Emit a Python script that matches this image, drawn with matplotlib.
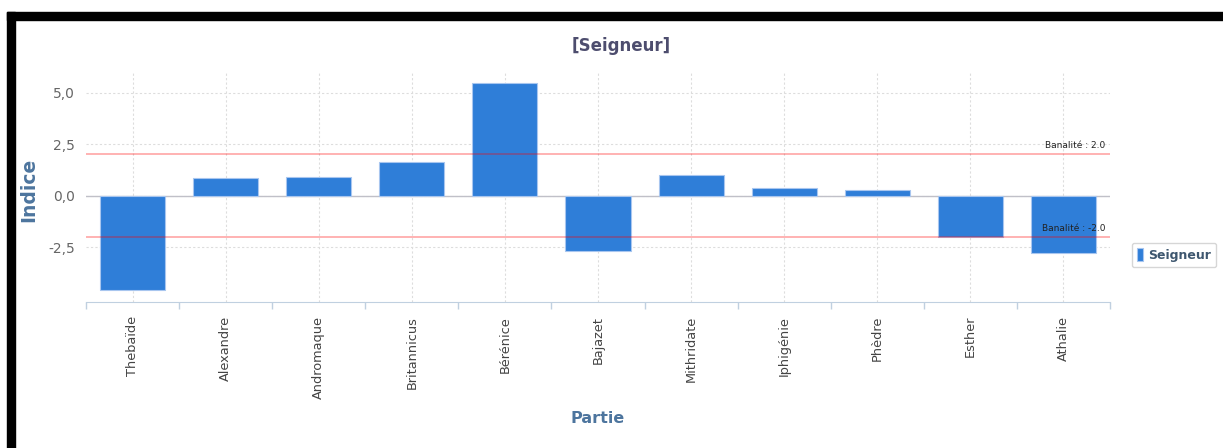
import matplotlib.pyplot as plt
from matplotlib.patches import Rectangle
from matplotlib.ticker import FuncFormatter

# data
pieces = ['Thebaïde', 'Alexandre', 'Andromaque', 'Britannicus', 'Bérénice', 'Bajazet',
          'Mithridate', 'Iphigénie', 'Phèdre', 'Esther', 'Athalie']
seigneur = [-4.6, 0.86, 0.92, 1.64, 5.48, -2.68, 1.02, 0.39, 0.29, -2.02, -2.78]
seuils = [2.0, -2.0]
yticks = [-2.5, 0.0, 2.5, 5.0]

W, H = 1223, 448
fig = plt.figure(figsize=(W / 100, H / 100), dpi=100)
ax = fig.add_axes([86 / W, 1 - 302 / H, (1110 - 86) / W, (302 - 72) / H])

x = list(range(len(pieces)))
ax.bar(x, seigneur, width=0.7, color='#2f7ed8', edgecolor='#a8c6ef', linewidth=0.8,
       zorder=3, label='Seigneur')

ax.set_xlim(-0.5, len(pieces) - 0.5)
ax.set_ylim(-5.17, 6.0)

# grid
ax.set_yticks(yticks)
ax.yaxis.set_major_formatter(FuncFormatter(lambda v, p: ('%.1f' % v).replace('.', ',')))
ax.set_xticks(x)
ax.set_xticklabels(pieces, rotation=90, fontsize=9.3, color='#444444')
ax.set_xticks([i - 0.5 for i in range(len(pieces) + 1)], minor=True)
ax.tick_params(axis='x', which='major', length=0, pad=10)
ax.tick_params(axis='x', which='minor', length=5, color='#c0d0e0', width=1)
ax.tick_params(axis='y', length=0, labelsize=10, labelcolor='#666666', pad=8)
ax.grid(True, which='major', color='#dddddd', linestyle=(0, (2, 2)), linewidth=0.8, zorder=0)
ax.axhline(0, color='#c0c0c8', linewidth=1, zorder=2)

for s in ['top', 'right', 'left']:
    ax.spines[s].set_visible(False)
ax.spines['bottom'].set_color('#c0d0e0')

# banalite lines
for s in seuils:
    ax.axhline(s, color='red', alpha=0.3, linewidth=1.4, zorder=4)
    ax.text(10.45, s + 0.2, 'Banalité : %.1f' % s, ha='right', va='bottom',
            fontsize=6.5, color='#222222', zorder=5)

# titles
fig.text(621 / W, 1 - 46 / H, '[Seigneur]', ha='center', va='center',
         fontsize=12, fontweight='bold', color='#4d4d6e')
fig.text(29 / W, 1 - 190 / H, 'Indice', ha='center', va='center', rotation=90,
         fontsize=13.5, fontweight='bold', color='#4d759e')
fig.text(598 / W, 1 - 418 / H, 'Partie', ha='center', va='center',
         fontsize=11.5, fontweight='bold', color='#4d759e')

# legend
leg = fig.legend(loc='center', bbox_to_anchor=(1174 / W, 1 - 255 / H), fontsize=9,
                 frameon=True, handlelength=0.45, handleheight=1.2, handletextpad=0.4,
                 borderpad=0.45, fancybox=True)
leg.get_frame().set_edgecolor('#cccccc')
leg.get_frame().set_linewidth(1)
for t in leg.get_texts():
    t.set_fontweight('bold')
    t.set_color('#3e576f')

# black frame
fig.patches.append(Rectangle((7 / W, 1 - 20 / H), 1 - 7 / W, 8 / H,
                             transform=fig.transFigure, color='black', zorder=10))
fig.patches.append(Rectangle((7 / W, 0), 8 / W, 1 - 12 / H,
                             transform=fig.transFigure, color='black', zorder=10))

fig.savefig('out.png', dpi=100)
